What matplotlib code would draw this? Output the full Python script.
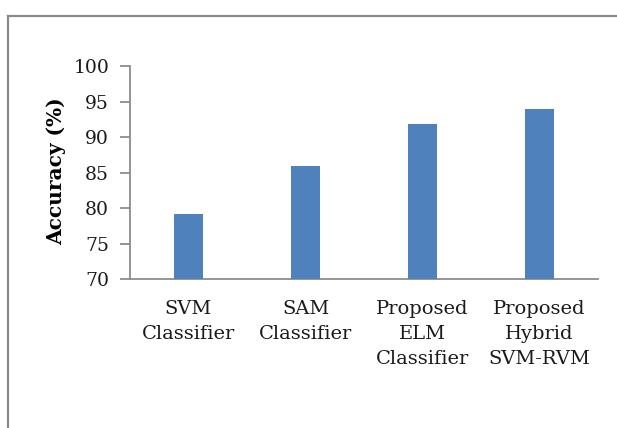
import matplotlib
matplotlib.use("Agg")
import matplotlib.pyplot as plt
from matplotlib.lines import Line2D

categories = ["SVM\nClassifier", "SAM\nClassifier", "Proposed\nELM\nClassifier",
              "Proposed\nHybrid\nSVM-RVM"]
accuracy = [79.2, 85.9, 91.9, 94.0]
yticks = [70, 75, 80, 85, 90, 95, 100]

plt.rcParams["font.family"] = ["DejaVu Serif", "Liberation Serif"]

fig = plt.figure(figsize=(6.17, 4.28), dpi=100)
ax = fig.add_axes([130 / 617, 1 - 279 / 428, 468 / 617, 213 / 428])

x = list(range(len(categories)))
ax.bar(x, accuracy, width=0.24, color="#4F81BD", zorder=3)

ax.set_xlim(-0.5, len(categories) - 0.5)
ax.set_ylim(70, 100)
ax.set_yticks(yticks)
ax.set_yticklabels([str(t) for t in yticks], fontsize=13.5, color="#1a1a1a")
ax.set_xticks(x)
ax.set_xticklabels(categories, fontsize=14, color="#1a1a1a", linespacing=1.5)
ax.tick_params(axis="x", length=0, pad=15)
ax.tick_params(axis="y", length=7, width=1.3, color="#8c8c8c", pad=8, direction="out")

for side in ("top", "right"):
    ax.spines[side].set_visible(False)
for side in ("left", "bottom"):
    ax.spines[side].set_color("#8c8c8c")
    ax.spines[side].set_linewidth(1.3)

ax.set_ylabel("Accuracy (%)", fontsize=14.5, fontweight="bold")
ax.yaxis.set_label_coords(-0.137, 0.507)

# outer frame of the chart area
fig.add_artist(Line2D([8 / 617, 1.0], [1 - 16 / 428, 1 - 16 / 428],
                      transform=fig.transFigure, color="#8a8a8a", linewidth=1.6))
fig.add_artist(Line2D([8 / 617, 8 / 617], [0.0, 1 - 16 / 428],
                      transform=fig.transFigure, color="#8a8a8a", linewidth=1.6))

fig.savefig("out.png", dpi=100)
